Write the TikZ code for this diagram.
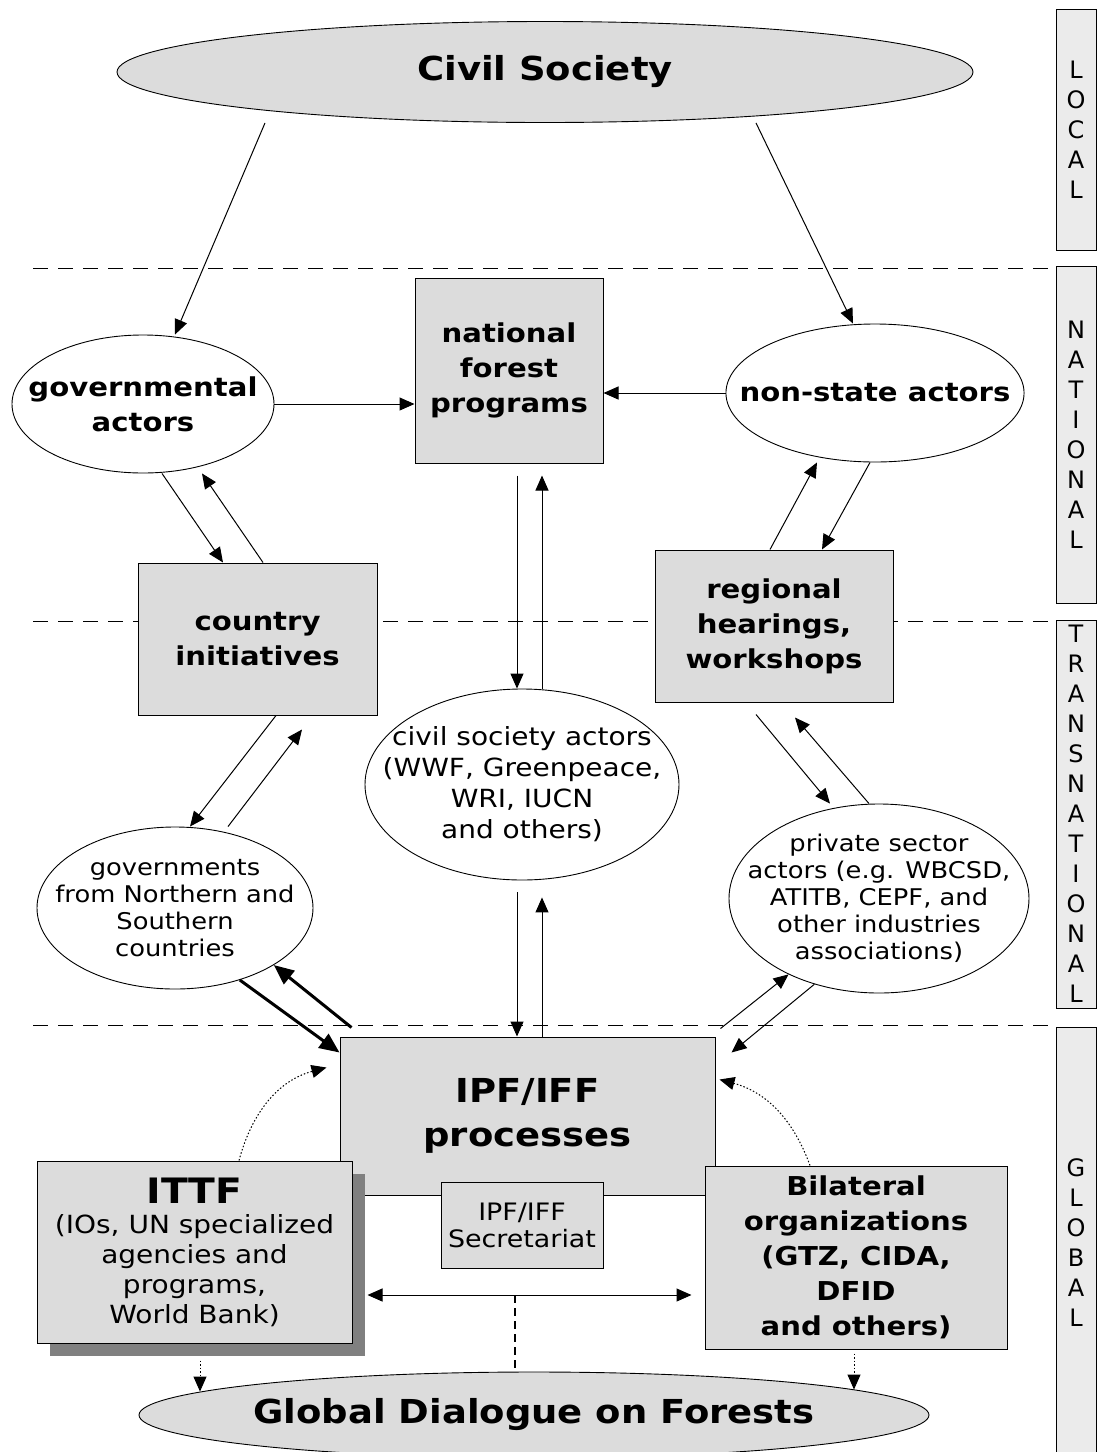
\documentclass[tikz,border=0pt]{standalone}
\usepackage{fontspec}
\setmainfont{DejaVu Sans}[FakeStretch=1.12]
\newfontfamily\barfont{DejaVu Sans}
\usetikzlibrary{arrows.meta,shapes.geometric,shadows}
\definecolor{boxgray}{HTML}{DCDCDC}
\definecolor{bargray}{HTML}{EBEBEB}
\definecolor{shadowgray}{HTML}{808080}
\newcommand{\labelbold}{\fontsize{26}{35}\selectfont\bfseries}
\newcommand{\labelplain}{\fontsize{23}{27}\selectfont}
\newcommand{\labelbig}{\fontsize{33}{44}\selectfont\bfseries}
\newcommand{\levelfont}{\barfont\fontsize{24}{30}\selectfont}

\begin{document}
\begin{tikzpicture}[
    x=1pt, y=-1pt,
    box/.style={draw=black, line width=1pt, fill=boxgray, align=center, font=\labelbold},
    oval/.style={ellipse, draw=black, line width=0.9pt, fill=white, align=center,
        inner sep=-30pt, font=\labelplain},
    levelbar/.style={draw=black, line width=1pt, fill=bargray, minimum width=40pt,
        inner ysep=0pt, align=center, font=\levelfont},
    arrow/.style={-{Triangle[length=15pt,width=13pt]}, line width=1pt},
    twoway/.style={arrow, {Triangle[length=15pt,width=13pt]}-{Triangle[length=15pt,width=13pt]}},
    heavyarrow/.style={-{Triangle[length=20pt,width=17pt]}, line width=3pt},
    dotarrow/.style={arrow, dash pattern=on 1.5pt off 2pt},
    layerline/.style={dash pattern=on 15pt off 10pt, line width=1pt}
]
\useasboundingbox (0,0) rectangle (1101,1452);

% level separators
\foreach \y in {268,621,1025}
    \draw[layerline] (33,\y) -- (1050,\y);

% local / national
\node[oval, fill=boxgray, font=\labelbig, minimum width=856pt, minimum height=101pt] (civil) at (545,72) {Civil Society};
\node[oval, font=\labelbold, minimum width=262pt, minimum height=138pt] (govact) at (143,404) {governmental\\actors};
\node[box, minimum width=188pt, minimum height=185pt] (nfp) at (509,370.5) {national\\forest\\programs};
\node[oval, font=\labelbold, minimum width=288pt, minimum height=138pt] (nonstate) at (875,393) {non-state actors};

% transnational
\node[box, minimum width=239pt, minimum height=152pt] (country) at (257.5,639) {country\\initiatives};
\node[box, minimum width=238pt, minimum height=152pt] (regional) at (774,626) {regional\\hearings,\\workshops};
\node[oval, font=\fontsize{25}{31}\selectfont, minimum width=314pt, minimum height=191pt] (csa) at (522,784.5) {civil society actors\\(WWF, Greenpeace,\\WRI, IUCN\\and others)};
\node[oval, minimum width=276pt, minimum height=162pt] (govs) at (175,908) {governments\\from Northern and\\Southern\\countries};
\node[oval, minimum width=300pt, minimum height=189pt] (private) at (879,898.5) {private sector\\actors (e.g. WBCSD,\\ATITB, CEPF, and\\other industries\\associations)};

% global
\node[box, font=\labelbig, minimum width=375pt, minimum height=158pt] (ipf) at (527.5,1116) {IPF/IFF\\processes};
\node[box, font=\fontsize{24}{27}\selectfont, minimum width=162pt, minimum height=86pt] (secr) at (522,1225) {IPF/IFF\\Secretariat};
\node[box, font=\fontsize{25}{30}\selectfont, minimum width=315pt, minimum height=182pt,
    general shadow={fill=shadowgray, shadow xshift=13pt, shadow yshift=-13pt}] (ittf) at (194.5,1252)
    {{\fontsize{35}{40}\selectfont\bfseries ITTF}\\(IOs, UN specialized\\agencies and\\programs,\\World Bank)};
\node[box, minimum width=302pt, minimum height=183pt] (bilat) at (856,1257.5) {Bilateral\\organizations\\(GTZ, CIDA,\\DFID\\and others)};
\node[oval, fill=boxgray, font=\labelbig, minimum width=790pt, minimum height=86pt] (gdf) at (534,1415) {Global Dialogue on Forests};

% level bars
\node[levelbar, minimum height=241pt] (local) at (1076,129.5) {L\\O\\C\\A\\L};
\node[levelbar, minimum height=337pt] (national) at (1076,434.5) {N\\A\\T\\I\\O\\N\\A\\L};
\node[levelbar, minimum height=388pt] (transnational) at (1076,814) {T\\R\\A\\N\\S\\N\\A\\T\\I\\O\\N\\A\\L};
\node[levelbar, minimum height=431pt] (global) at (1076,1242.5) {G\\L\\O\\B\\A\\L};

% connectors
\draw[arrow] ([xshift=-280pt]civil.south) -- ([xshift=32pt]govact.north);
\draw[arrow] ([xshift=211pt]civil.south) -- ([xshift=-22pt]nonstate.north);
\draw[arrow] (govact.east) -- (govact.east -| nfp.west);
\draw[arrow] (nonstate.west) -- (nonstate.west -| nfp.east);
\draw[arrow] ([xshift=19pt]govact.south) -- ([xshift=-34.5pt]country.north);
\draw[arrow] ([xshift=5.5pt]country.north) -- ([xshift=59pt]govact.south);
\draw[arrow] ([xshift=-4pt]regional.north) -- ([xshift=-58pt]nonstate.south);
\draw[arrow] ([xshift=-5pt]nonstate.south) -- ([xshift=48pt]regional.north);
\draw[arrow] ([xshift=8pt,yshift=-12pt]nfp.south) -- ([xshift=-5pt]csa.north);
\draw[arrow] ([xshift=20pt]csa.north) -- ([xshift=33pt,yshift=-12pt]nfp.south);
\draw[arrow] ([xshift=18.5pt]country.south) -- ([xshift=15pt]govs.north);
\draw[arrow] ([xshift=53pt]govs.north) -- ([xshift=44.5pt,yshift=-14pt]country.south);
\draw[arrow] ([xshift=-18pt,yshift=-12pt]regional.south) -- ([xshift=-49pt]private.north);
\draw[arrow] ([xshift=-10pt]private.north) -- ([xshift=21pt,yshift=-15pt]regional.south);
\draw[arrow] ([xshift=-5pt,yshift=-12pt]csa.south) -- ([xshift=-10.5pt]ipf.north);
\draw[arrow] ([xshift=14.5pt]ipf.north) -- ([xshift=20pt,yshift=-17pt]csa.south);
\draw[heavyarrow] (govs.-48) -- ([yshift=-16pt]ipf.north west);
\draw[heavyarrow] ([xshift=12pt,yshift=9pt]ipf.north west) -- (govs.-30);
\draw[arrow] ([xshift=5pt,yshift=8pt]ipf.north east) -- (private.-140);
\draw[arrow] (private.-127) -- ([xshift=16pt,yshift=-16pt]ipf.north east);
\draw[dotarrow] ([xshift=44.5pt]ittf.north) to[out=75,in=195] ([xshift=-13pt,yshift=-31pt]ipf.north west);
\draw[dotarrow] ([xshift=-46pt]bilat.north) to[out=110,in=-15] ([xshift=4pt,yshift=-43pt]ipf.north east);
\draw[twoway] ([xshift=15pt,yshift=-43pt]ittf.east) -- ([xshift=-13pt,yshift=-37.5pt]bilat.west);
\coordinate (split) at (515,1295);
\draw[line width=1.5pt, dash pattern=on 8pt off 5pt] (split) -- (split |- gdf.north);
\draw[dotarrow] ([xshift=5.5pt,yshift=-17pt]ittf.south) -- ([xshift=-334pt,yshift=-20pt]gdf.north);
\draw[dotarrow] ([xshift=-2pt,yshift=-4pt]bilat.south) -- ([xshift=320pt,yshift=-18pt]gdf.north);
\end{tikzpicture}
\end{document}
